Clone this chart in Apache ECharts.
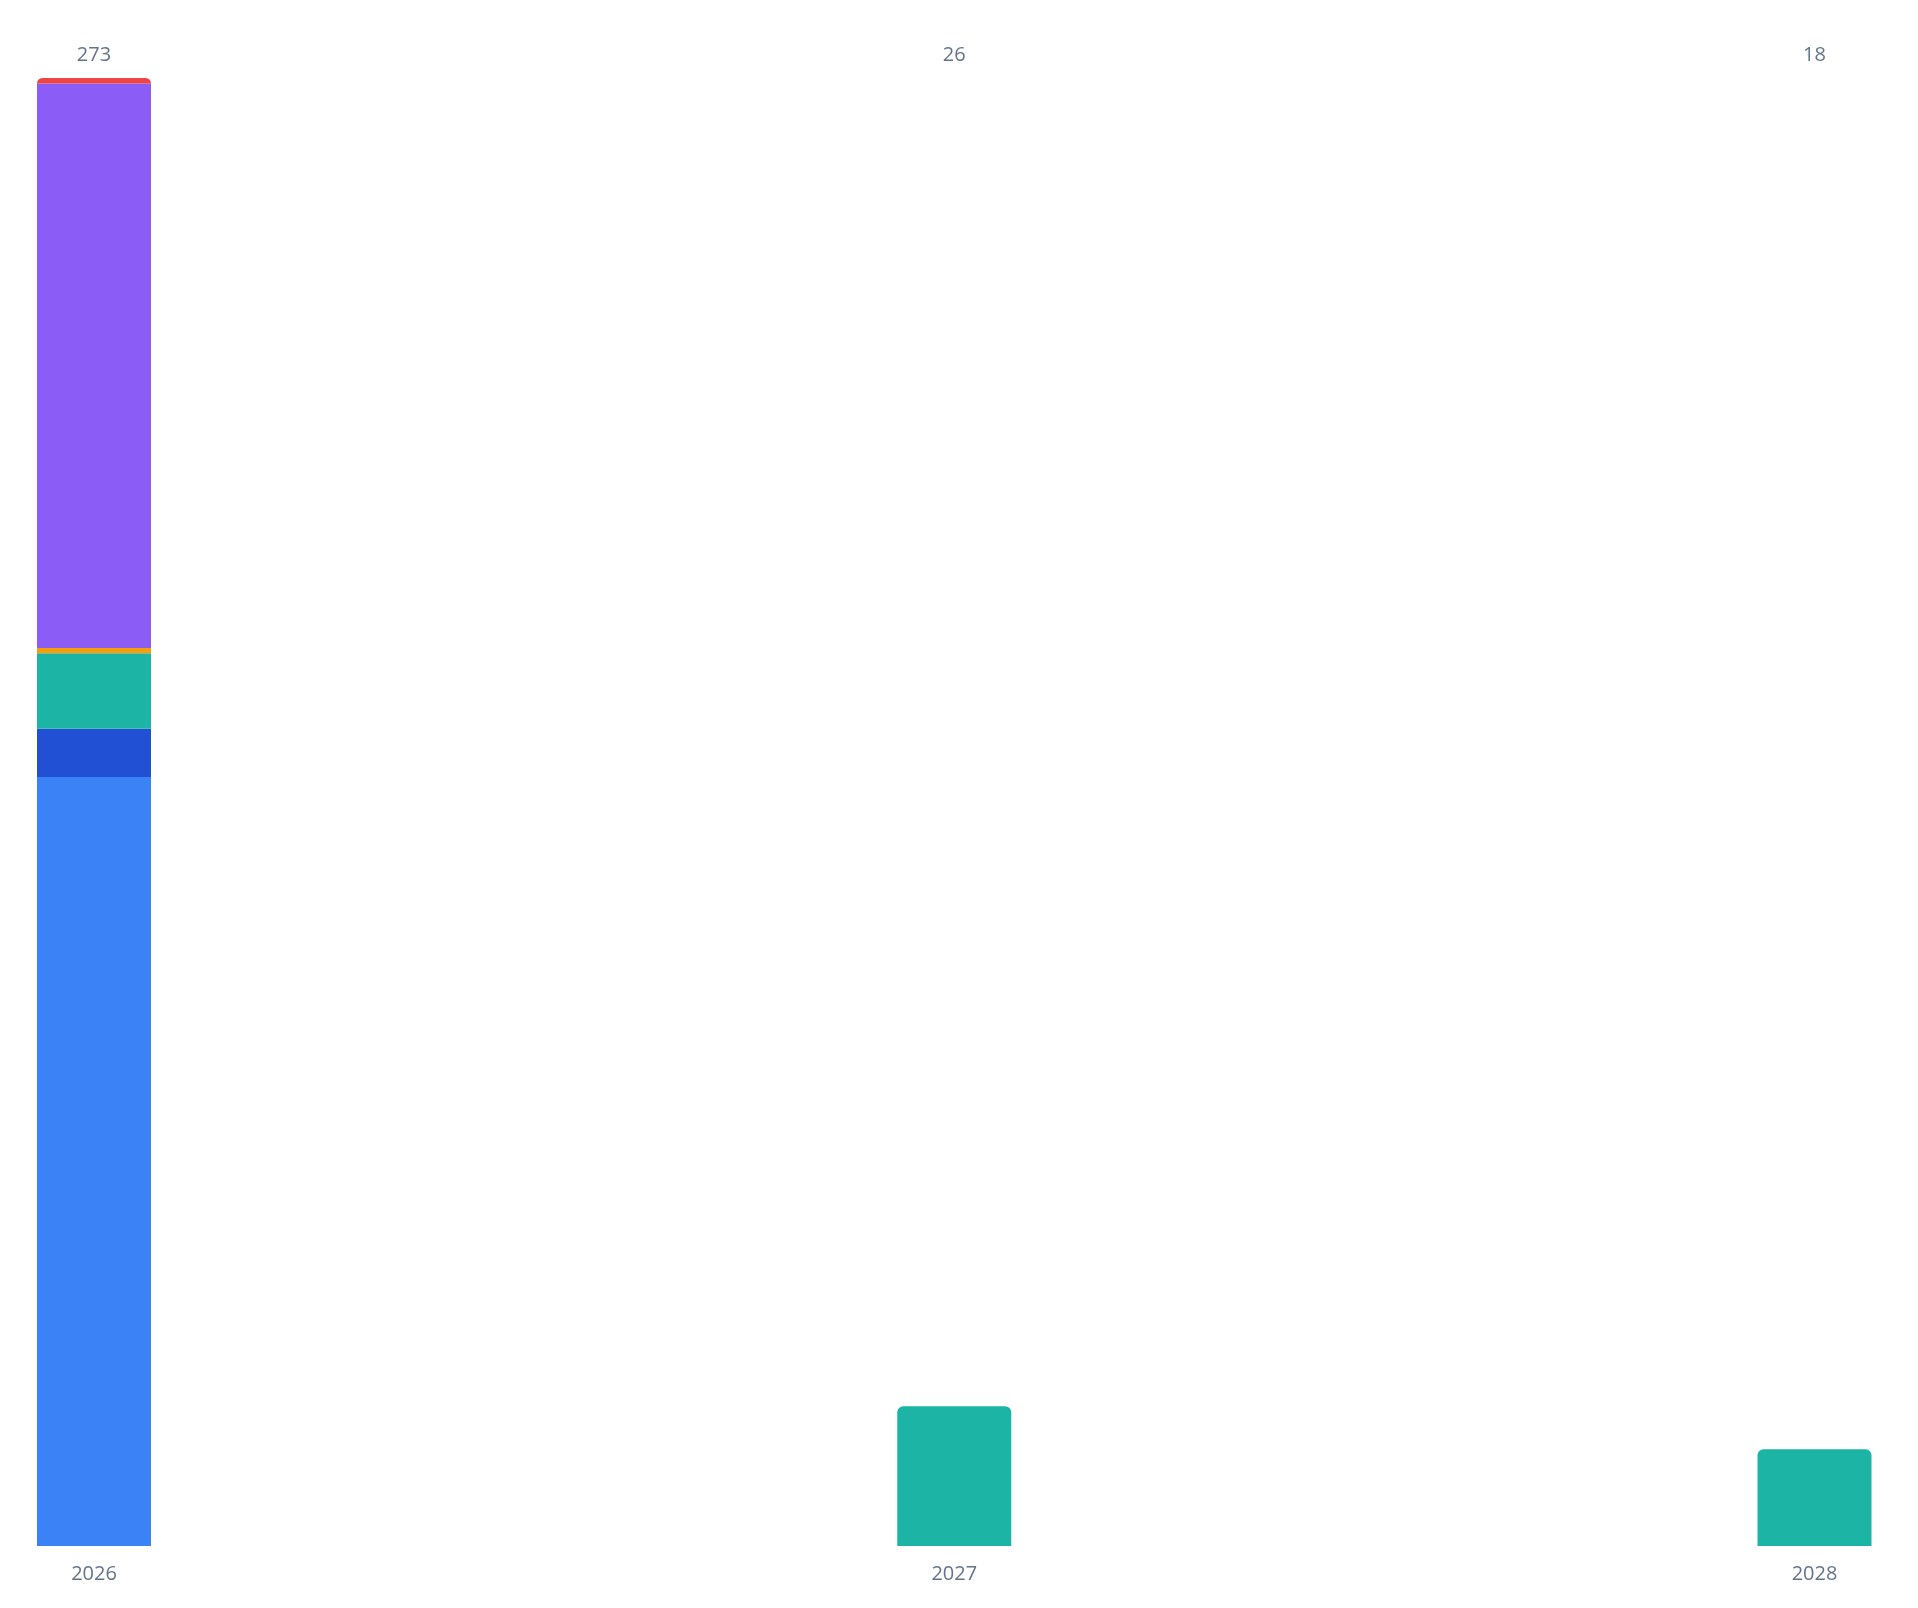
<!DOCTYPE html>
<html>
<head>
<meta charset="utf-8">
<title>Stacked bars by year</title>
<script src="https://cdn.jsdelivr.net/npm/echarts@6/dist/echarts.min.js"></script>
<style>
  html, body { margin: 0; padding: 0; background: #fff; }
  #chart { width: 1918px; height: 1608px; }
</style>
</head>
<body>
<div id="chart"></div>
<script>
// categories (x axis)
var years = ['2026', '2027', '2028'];

// stacked series, bottom to top
var seriesNames = ['A', 'B', 'C', 'D', 'E', 'F'];
var seriesColors = ['#3b82f6', '#2250d4', '#1cb5a5', '#f59e0b', '#8b5cf6', '#ef4444'];
var valsA = [143, 0, 0];
var valsB = [9, 0, 0];
var valsC = [14, 26, 18];
var valsD = [1, 0, 0];
var valsE = [105, 0, 0];
var valsF = [1, 0, 0];
var allVals = [valsA, valsB, valsC, valsD, valsE, valsF];

// totals per year (shown on top)
var totals = years.map(function (y, i) {
    var s = 0;
    for (var k = 0; k < allVals.length; k++) s += allVals[k][i];
    return s;
});

// index of the top-most non-zero segment for each year -> gets rounded corners
var topIdx = years.map(function (y, i) {
    var t = -1;
    for (var k = 0; k < allVals.length; k++) if (allVals[k][i] > 0) t = k;
    return t;
});

var labelStyle = {
    color: '#64748b',
    fontSize: 20,
    fontFamily: 'Open Sans'
};

var series = allVals.map(function (vals, k) {
    return {
        name: seriesNames[k],
        type: 'bar',
        stack: 'total',
        barWidth: 114,
        itemStyle: { color: seriesColors[k] },
        data: vals.map(function (v, i) {
            var item = { value: v };
            if (topIdx[i] === k) item.itemStyle = { borderRadius: [6, 6, 0, 0] };
            return item;
        })
    };
});

var myChart = echarts.init(document.getElementById('chart'));
myChart.setOption({
    animation: false,
    grid: { left: 94, right: 103.5, top: 78, bottom: 62 },
    xAxis: [
        {
            type: 'category',
            data: years,
            boundaryGap: false,
            axisLine: { show: false },
            axisTick: { show: false },
            splitLine: { show: false },
            axisLabel: Object.assign({ margin: 18 }, labelStyle)
        },
        {
            type: 'category',
            position: 'top',
            data: years,
            boundaryGap: false,
            axisLine: { show: false },
            axisTick: { show: false },
            splitLine: { show: false },
            axisLabel: Object.assign({
                margin: 13,
                formatter: function (v, i) { return String(totals[i]); }
            }, labelStyle)
        }
    ],
    yAxis: {
        type: 'value',
        min: 0,
        max: function (v) { return v.max; },
        show: false,
        splitLine: { show: false }
    },
    series: series
});
</script>
</body>
</html>
